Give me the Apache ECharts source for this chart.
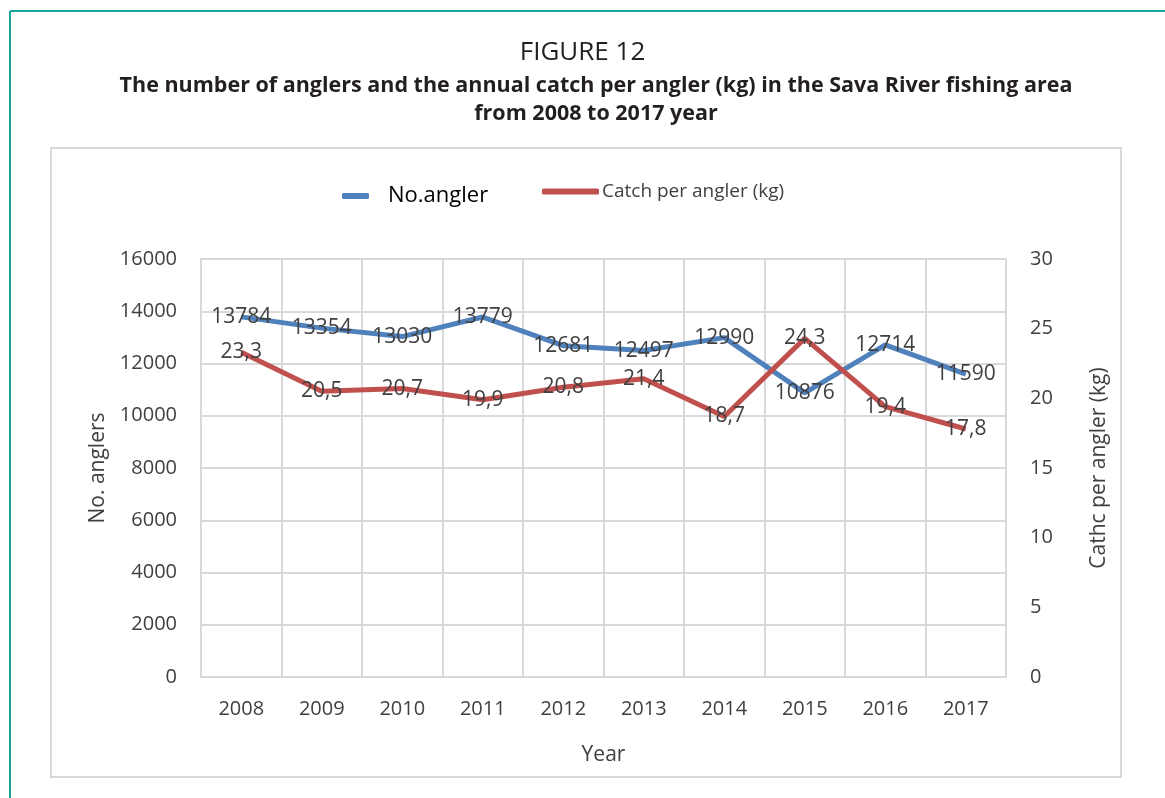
<!DOCTYPE html>
<html>
<head>
<meta charset="utf-8">
<script src="https://cdn.jsdelivr.net/npm/echarts@6/dist/echarts.min.js"></script>
<style>
  html, body { margin: 0; padding: 0; background: #fff; }
  #main { width: 1165px; height: 798px; }
</style>
</head>
<body>
<div id="main"></div>
<script>
const years = ['2008', '2009', '2010', '2011', '2012', '2013', '2014', '2015', '2016', '2017'];
const anglers = [13784, 13354, 13030, 13779, 12681, 12497, 12990, 10876, 12714, 11590];
const catchPerAngler = [23.3, 20.5, 20.7, 19.9, 20.8, 21.4, 18.7, 24.3, 19.4, 17.8];

const font = 'Open Sans';
const txt = '#404040';

const chart = echarts.init(document.getElementById('main'));
chart.setOption({
  animation: false,
  textStyle: { fontFamily: font },
  title: [
    {
      text: 'FIGURE 12',
      left: 'center',
      top: 35,
      textStyle: { fontSize: 26, fontWeight: 'normal', color: '#231f20', fontFamily: font }
    },
    {
      text: 'The number of anglers and the annual catch per angler (kg) in the Sava River fishing area\nfrom 2008 to 2017 year',
      left: 591,
      top: 67,
      textAlign: 'center',
      textStyle: { fontSize: 21.5, fontWeight: 'bold', color: '#231f20', lineHeight: 28, fontFamily: font }
    }
  ],
  graphic: [
    { type: 'line', shape: { x1: 10, y1: 11, x2: 1165, y2: 11 }, style: { stroke: '#1aa5a3', lineWidth: 2 } },
    { type: 'line', shape: { x1: 10, y1: 11, x2: 10, y2: 798 }, style: { stroke: '#1aa5a3', lineWidth: 2 } },
    { type: 'rect', shape: { x: 51, y: 148, width: 1070, height: 629 }, style: { fill: 'none', stroke: '#d9d9d9', lineWidth: 2 } }
  ],
  legend: [
    {
      data: ['No.angler'],
      left: 337,
      top: 180,
      icon: 'roundRect',
      itemWidth: 27,
      itemHeight: 6,
      itemGap: 0,
      textStyle: { fontSize: 22, color: '#000', padding: [6, 0, 0, 14] }
    },
    {
      data: ['Catch per angler (kg)'],
      left: 537,
      top: 177,
      icon: 'roundRect',
      itemWidth: 57,
      itemHeight: 6,
      textStyle: { fontSize: 19, color: txt, padding: [0, 0, 0, -2] }
    }
  ],
  grid: { left: 201, right: 159, top: 259, bottom: 121 },
  xAxis: {
    type: 'category',
    data: years,
    boundaryGap: true,
    name: 'Year',
    nameLocation: 'middle',
    nameGap: 68,
    nameTextStyle: { fontSize: 21, color: txt },
    axisLine: { lineStyle: { color: '#d9d9d9', width: 2 } },
    axisTick: { show: false },
    axisLabel: { fontSize: 20, color: txt, margin: 22 },
    splitLine: { show: true, lineStyle: { color: '#d9d9d9', width: 2 } }
  },
  yAxis: [
    {
      type: 'value',
      min: 0,
      max: 16000,
      interval: 2000,
      name: 'No. anglers',
      nameLocation: 'middle',
      nameGap: 91,
      nameTextStyle: { fontSize: 21, color: txt },
      axisLine: { show: true, lineStyle: { color: '#d9d9d9', width: 2 } },
      axisTick: { show: false },
      axisLabel: { fontSize: 20, color: txt, margin: 24, formatter: v => String(v) },
      splitLine: { lineStyle: { color: '#d9d9d9', width: 2 } }
    },
    {
      type: 'value',
      min: 0,
      max: 30,
      interval: 5,
      position: 'right',
      name: 'Cathc per angler (kg)',
      nameLocation: 'middle',
      nameGap: 83,
      nameRotate: 90,
      nameTextStyle: { fontSize: 21, color: txt },
      axisLine: { show: false },
      axisTick: { show: false },
      axisLabel: { fontSize: 20, color: txt, margin: 24 },
      splitLine: { show: false }
    }
  ],
  series: [
    {
      name: 'No.angler',
      type: 'line',
      data: anglers,
      yAxisIndex: 0,
      symbol: 'circle',
      symbolSize: 1,
      lineStyle: { color: '#4f81bd', width: 5 },
      itemStyle: { color: '#4f81bd' },
      label: { show: true, position: 'inside', fontSize: 21, color: txt }
    },
    {
      name: 'Catch per angler (kg)',
      type: 'line',
      data: catchPerAngler,
      yAxisIndex: 1,
      symbol: 'circle',
      symbolSize: 1,
      lineStyle: { color: '#c0504d', width: 5 },
      itemStyle: { color: '#c0504d' },
      label: {
        show: true,
        position: 'inside',
        fontSize: 21,
        color: txt,
        formatter: p => String(p.value).replace('.', ',')
      }
    }
  ]
});
</script>
</body>
</html>
